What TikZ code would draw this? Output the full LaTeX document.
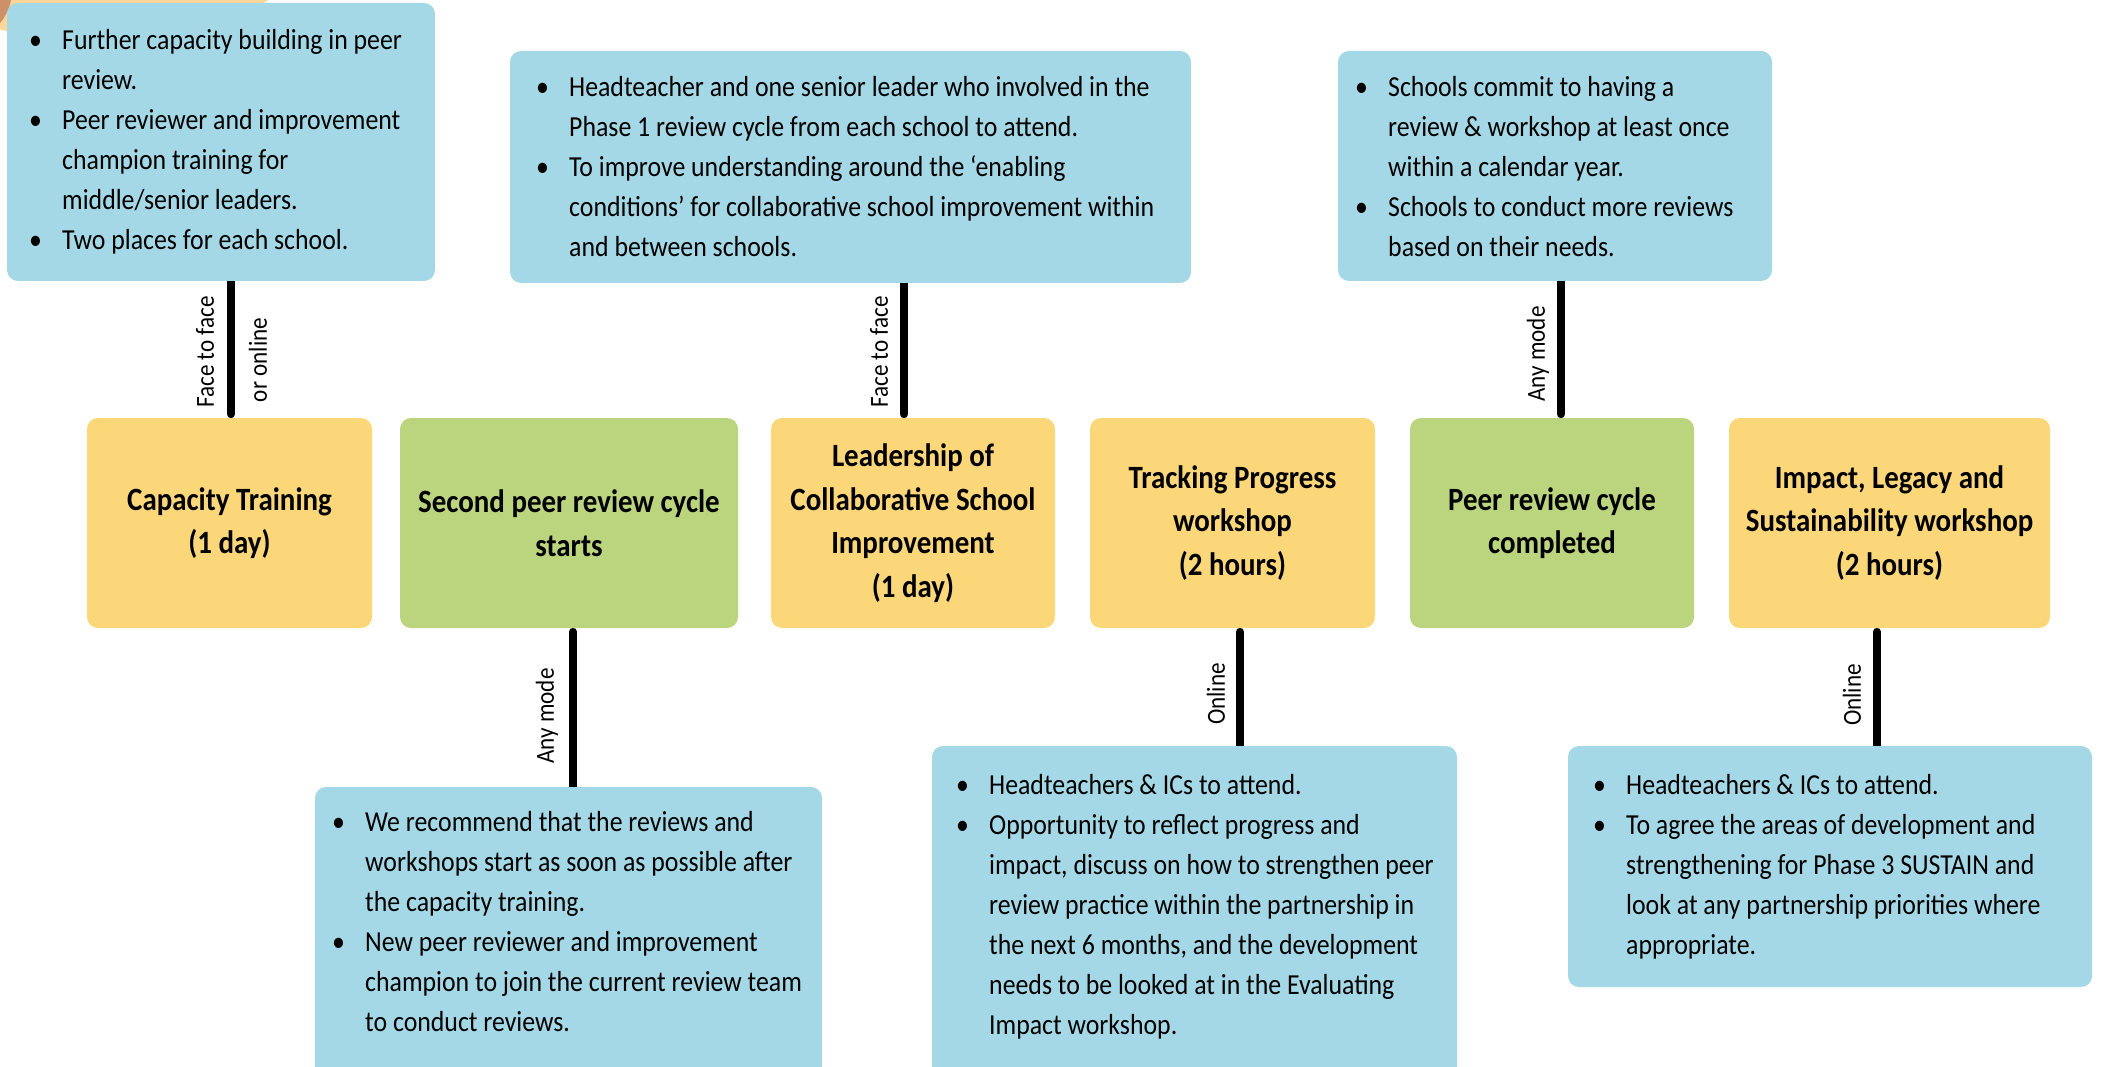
\documentclass[tikz,border=0pt]{standalone}
\usepackage{fontspec}
\setmainfont{Carlito}[FakeStretch=0.89]
\usetikzlibrary{calc}
\definecolor{boxblue}{RGB}{165,216,230}
\definecolor{boxorange}{RGB}{252,215,122}
\definecolor{boxgreen}{RGB}{187,212,126}
\definecolor{peach}{RGB}{251,214,152}
\definecolor{tan}{RGB}{205,145,105}
\pgfdeclarelayer{bg}
\pgfsetlayers{bg,main}
\newcommand\bodyfont{\fontsize{29}{40}\selectfont}
\newcommand\headfont{\fontsize{32.5}{43.5}\selectfont\bfseries}
\newcommand\bul{\textbullet}
\newenvironment{blist}{\bodyfont\begin{tabular}{@{}p{33pt}@{}l@{}}}{\end{tabular}}
\begin{document}
\begin{tikzpicture}[x=1pt,y=-1pt,
  boxbase/.style={rounded corners=11pt, inner sep=0pt, outer sep=0pt, anchor=north west},
  infobox/.style={boxbase, fill=boxblue},
  stagebox/.style={boxbase, minimum height=210pt},
  orangebox/.style={stagebox, fill=boxorange},
  greenbox/.style={stagebox, fill=boxgreen},
  bodytext/.style={inner sep=0pt, anchor=north west},
  headtext/.style={inner sep=0pt, align=center, font=\headfont},
  lbl/.style={inner sep=0pt, rotate=90, font=\fontsize{26}{30}\selectfont},
  conn/.style={line width=8.5pt, line cap=round, black}]
\useasboundingbox (0,0) rectangle (2105,1067);

% top info boxes
\node[infobox, minimum width=428pt, minimum height=278pt] (T1) at (7,3) {};
\node[infobox, minimum width=681pt, minimum height=232pt] (T2) at (510,51) {};
\node[infobox, minimum width=434pt, minimum height=230pt] (T3) at (1338,51) {};

% stage boxes
\node[orangebox, minimum width=285pt] (M1) at (87,418) {};
\node[greenbox,  minimum width=338pt] (M2) at (400,418) {};
\node[orangebox, minimum width=284pt] (M3) at (771,418) {};
\node[orangebox, minimum width=285pt] (M4) at (1090,418) {};
\node[greenbox,  minimum width=284pt] (M5) at (1410,418) {};
\node[orangebox, minimum width=321pt] (M6) at (1729,418) {};

% bottom info boxes
\node[infobox, minimum width=507pt, minimum height=320pt] (B1) at (315,787) {};
\node[infobox, minimum width=525pt, minimum height=340pt] (B2) at (932,746) {};
\node[infobox, minimum width=524pt, minimum height=241pt] (B3) at (1568,746) {};

% connector x positions
\coordinate (c1) at (231,0);
\coordinate (c2) at (573,0);
\coordinate (c3) at (904,0);
\coordinate (c4) at (1240,0);
\coordinate (c5) at (1561,0);
\coordinate (c6) at (1877,0);

\begin{pgfonlayer}{bg}
  \fill[peach] (100,-300) circle (344pt);
  \fill[tan] (-40,-10) circle (52pt);
  \draw[conn] ([yshift=4pt]M1.north -| c1) -- (T1.south -| c1);
  \draw[conn] ([yshift=-4pt]M2.south -| c2) -- (B1.north -| c2);
  \draw[conn] ([yshift=4pt]M3.north -| c3) -- (T2.south -| c3);
  \draw[conn] ([yshift=-4pt]M4.south -| c4) -- (B2.north -| c4);
  \draw[conn] ([yshift=4pt]M5.north -| c5) -- (T3.south -| c5);
  \draw[conn] ([yshift=-4pt]M6.south -| c6) -- (B3.north -| c6);
\end{pgfonlayer}

% connector labels
\node[lbl] (L1) at (205,352) {Face to face};
\node[lbl] (L2) at (258,360) {or online};
\node[lbl] (L3) at (879,352) {Face to face};
\node[lbl] (L4) at (547,716) {Any mode};
\node[lbl] (L5) at (1216,694) {Online};
\node[lbl] (L6) at (1538,354) {Any mode};
\node[lbl] (L7) at (1852,695) {Online};

% stage texts
\node[headtext] (M1t) at (M1.center) {Capacity Training\\(1 day)};
\node[headtext] (M2t) at (M2.center) {Second peer review cycle\\starts};
\node[headtext] (M3t) at (M3.center) {Leadership of\\Collaborative School\\Improvement\\(1 day)};
\node[headtext] (M4t) at (M4.center) {Tracking Progress\\workshop\\(2 hours)};
\node[headtext] (M5t) at (M5.center) {Peer review cycle\\completed};
\node[headtext] (M6t) at (M6.center) {Impact, Legacy and\\Sustainability workshop\\(2 hours)};

% info texts
\node[bodytext] (T1t) at (29,21) {\begin{blist}
\bul & Further capacity building in peer\\
     & review.\\
\bul & Peer reviewer and improvement\\
     & champion training for\\
     & middle/senior leaders.\\
\bul & Two places for each school.
\end{blist}};

\node[bodytext] (T2t) at (536,68) {\begin{blist}
\bul & Headteacher and one senior leader who involved in the\\
     & Phase 1 review cycle from each school to attend.\\
\bul & To improve understanding around the ‘enabling\\
     & conditions’ for collaborative school improvement within\\
     & and between schools.
\end{blist}};

\node[bodytext] (T3t) at (1355,68) {\begin{blist}
\bul & Schools commit to having a\\
     & review \& workshop at least once\\
     & within a calendar year.\\
\bul & Schools to conduct more reviews\\
     & based on their needs.
\end{blist}};

\node[bodytext] (B1t) at (332,803) {\begin{blist}
\bul & We recommend that the reviews and\\
     & workshops start as soon as possible after\\
     & the capacity training.\\
\bul & New peer reviewer and improvement\\
     & champion to join the current review team\\
     & to conduct reviews.
\end{blist}};

\node[bodytext] (B2t) at (956,766) {\begin{blist}
\bul & Headteachers \& ICs to attend.\\
\bul & Opportunity to reflect progress and\\
     & impact, discuss on how to strengthen peer\\
     & review practice within the partnership in\\
     & the next 6 months, and the development\\
     & needs to be looked at in the Evaluating\\
     & Impact workshop.
\end{blist}};

\node[bodytext] (B3t) at (1593,766) {\begin{blist}
\bul & Headteachers \& ICs to attend.\\
\bul & To agree the areas of development and\\
     & strengthening for Phase 3 SUSTAIN and\\
     & look at any partnership priorities where\\
     & appropriate.
\end{blist}};
\end{tikzpicture}
\end{document}
